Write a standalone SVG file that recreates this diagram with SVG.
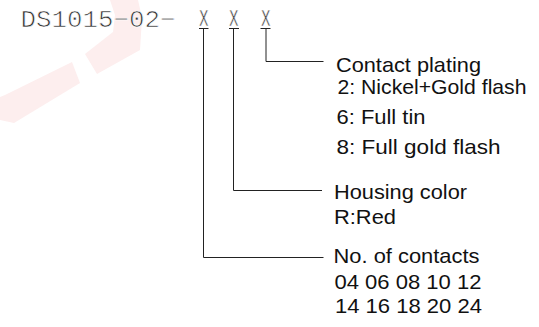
<svg xmlns="http://www.w3.org/2000/svg" width="539" height="327" viewBox="0 0 539 327">
<style>
.wm{fill:#fdeeee;stroke:none}
.pn{font-family:"Liberation Mono",monospace;font-size:24px;fill:#333;stroke:#fff;stroke-width:0.7px}
.px{font-family:"Liberation Mono",monospace;font-size:24px;fill:#333;stroke:#fff;stroke-width:0.6px}
.lb{font-family:"Liberation Sans",Arial,sans-serif;font-size:21px;fill:#111}
.ln{fill:none;stroke:#222;stroke-width:1}
</style>
<rect width="539" height="327" fill="#fff"/>
<g id="watermark">
<polygon class="wm" points="5,95 72,62 80,83 14,123 0,120 0,97"/>
<polygon class="wm" points="110,0 138,0 142,18 140,50 97,74 85,54 113,32 115,15"/>
</g>
<g id="partnumber">
<text class="pn" x="20.5" y="26.5" textLength="155" lengthAdjust="spacingAndGlyphs">DS1015−02−</text>
<text class="px" x="199" y="25.5" textLength="9.5" lengthAdjust="spacingAndGlyphs">X</text>
<text class="px" x="229" y="25.5" textLength="9.5" lengthAdjust="spacingAndGlyphs">X</text>
<text class="px" x="261" y="25.5" textLength="9.5" lengthAdjust="spacingAndGlyphs">X</text>
<line class="ln" x1="199" y1="28.5" x2="208.5" y2="28.5"/>
<line class="ln" x1="229" y1="28.5" x2="239" y2="28.5"/>
<line class="ln" x1="260.5" y1="28.5" x2="270.5" y2="28.5"/>
</g>
<g id="connectors">
<polyline class="ln" points="203.5,29 203.5,257.5 323.5,257.5"/>
<polyline class="ln" points="233.5,29 233.5,190.5 322,190.5"/>
<polyline class="ln" points="266,29 266,61.5 323.5,61.5"/>
</g>
<g id="contact-plating">
<text class="lb" x="336" y="71.5" textLength="145" lengthAdjust="spacingAndGlyphs">Contact plating</text>
<text class="lb" x="337.5" y="94" textLength="189" lengthAdjust="spacingAndGlyphs">2: Nickel+Gold flash</text>
<text class="lb" x="336.5" y="124" textLength="89" lengthAdjust="spacingAndGlyphs">6: Full tin</text>
<text class="lb" x="336.5" y="153.5" textLength="164" lengthAdjust="spacingAndGlyphs">8: Full gold flash</text>
</g>
<g id="housing-color">
<text class="lb" x="334" y="199" textLength="133" lengthAdjust="spacingAndGlyphs">Housing color</text>
<text class="lb" x="334" y="223.5" textLength="62" lengthAdjust="spacingAndGlyphs">R:Red</text>
</g>
<g id="no-of-contacts">
<text class="lb" x="333.5" y="263.3" textLength="146" lengthAdjust="spacingAndGlyphs">No. of contacts</text>
<text class="lb" x="334.5" y="289" textLength="147" lengthAdjust="spacingAndGlyphs">04 06 08 10 12</text>
<text class="lb" x="335" y="313.3" textLength="147" lengthAdjust="spacingAndGlyphs">14 16 18 20 24</text>
</g>
</svg>
